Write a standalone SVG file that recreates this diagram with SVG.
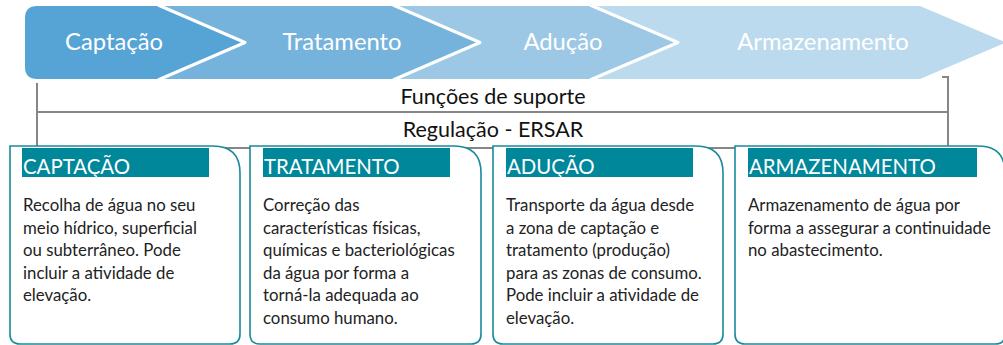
<svg xmlns="http://www.w3.org/2000/svg" width="1003" height="345" viewBox="0 0 1003 345">
<style>
.chev-label{font-family:Lato,"Open Sans","Liberation Sans",sans-serif;font-size:23.8px;fill:#ffffff;text-anchor:middle}
.sep{fill:none;stroke:#ffffff;stroke-width:3;stroke-linejoin:round}
.line{fill:none;stroke:#868686;stroke-width:2}
.band{font-family:Lato,"Open Sans","Liberation Sans",sans-serif;font-size:21.5px;fill:#111111;text-anchor:middle}
.box{fill:#ffffff;stroke:#1a8a9b;stroke-width:1.6}
.hdr{fill:#00879a}
.hdr-t{font-family:Lato,"Open Sans","Liberation Sans",sans-serif;font-size:20.4px;fill:#ffffff}
.body{font-family:Lato,"Open Sans","Liberation Sans",sans-serif;font-size:16.8px;fill:#222222}
</style>
<g id="chevrons">
<g id="chev-armazenamento">
<polygon points="580,6 920,6 1006,42.5 920,79 580,79" fill="#bcdaee"/>
<text class="chev-label" x="823" y="50">Armazenamento</text>
</g>
<g id="chev-aducao">
<polygon points="385,6 590,6 678,42.5 590,79 385,79" fill="#9cc8e6"/>
<polyline class="sep" points="590,5 678,42.5 590,80"/>
<text class="chev-label" x="563" y="50">Adução</text>
</g>
<g id="chev-tratamento">
<polygon points="150,6 393,6 480,42.5 393,79 150,79" fill="#76b3dc"/>
<polyline class="sep" points="393,5 480,42.5 393,80"/>
<text class="chev-label" x="342" y="50">Tratamento</text>
</g>
<g id="chev-captacao">
<path d="M37,6 H158 L245,42.5 L158,79 H37 Q25,79 25,67 V18 Q25,6 37,6 Z" fill="#56a3d5"/>
<polyline class="sep" points="158,5 245,42.5 158,80"/>
<text class="chev-label" x="114" y="50">Captação</text>
</g>
</g>
<g id="connectors">
<polyline class="line" points="37,83 37,150"/>
<polyline class="line" points="942,77 948,77 948,148"/>
<line class="line" x1="37" y1="112" x2="948" y2="112"/>
<line class="line" x1="37" y1="148" x2="948" y2="148"/>
</g>
<g id="support">
<text class="band" x="493" y="104">Funções de suporte</text>
<text class="band" x="493" y="137">Regulação - ERSAR</text>
</g>
<g id="box-captacao">
<path class="box" d="M10,146 H213 Q240,146 240,173 V334 Q240,344 230,344 H20 Q10,344 10,334 Z"/>
<rect class="hdr" x="22" y="148" width="187" height="29"/>
<text class="hdr-t" x="23" y="174">CAPTAÇÃO</text>
<text class="body" x="23" y="211">Recolha de água no seu</text>
<text class="body" x="23" y="233.5">meio hídrico, superficial</text>
<text class="body" x="23" y="256">ou subterrâneo. Pode</text>
<text class="body" x="23" y="278.5">incluir a atividade de</text>
<text class="body" x="23" y="301">elevação.</text>
</g>
<g id="box-tratamento">
<path class="box" d="M250,146 H454 Q481,146 481,173 V334 Q481,344 471,344 H260 Q250,344 250,334 Z"/>
<rect class="hdr" x="263" y="148" width="187" height="29"/>
<text class="hdr-t" x="264" y="174">TRATAMENTO</text>
<text class="body" x="263" y="211">Correção das</text>
<text class="body" x="263" y="233.5">características físicas,</text>
<text class="body" x="263" y="256">químicas e bacteriológicas</text>
<text class="body" x="263" y="278.5">da água por forma a</text>
<text class="body" x="263" y="301">torná-la adequada ao</text>
<text class="body" x="263" y="323.5">consumo humano.</text>
</g>
<g id="box-aducao">
<path class="box" d="M493,146 H696 Q723,146 723,173 V334 Q723,344 713,344 H503 Q493,344 493,334 Z"/>
<rect class="hdr" x="506" y="148" width="187" height="29"/>
<text class="hdr-t" x="507" y="174">ADUÇÃO</text>
<text class="body" x="506" y="211">Transporte da água desde</text>
<text class="body" x="506" y="233.5">a zona de captação e</text>
<text class="body" x="506" y="256">tratamento (produção)</text>
<text class="body" x="506" y="278.5">para as zonas de consumo.</text>
<text class="body" x="506" y="301">Pode incluir a atividade de</text>
<text class="body" x="506" y="323.5">elevação.</text>
</g>
<g id="box-armazenamento">
<path class="box" d="M735,146 H978 Q1005,146 1005,173 V334 Q1005,344 995,344 H745 Q735,344 735,334 Z"/>
<rect class="hdr" x="748" y="148" width="229" height="29"/>
<text class="hdr-t" x="749" y="174">ARMAZENAMENTO</text>
<text class="body" x="748" y="211">Armazenamento de água por</text>
<text class="body" x="748" y="233.5">forma a assegurar a continuidade</text>
<text class="body" x="748" y="256">no abastecimento.</text>
</g>
</svg>
